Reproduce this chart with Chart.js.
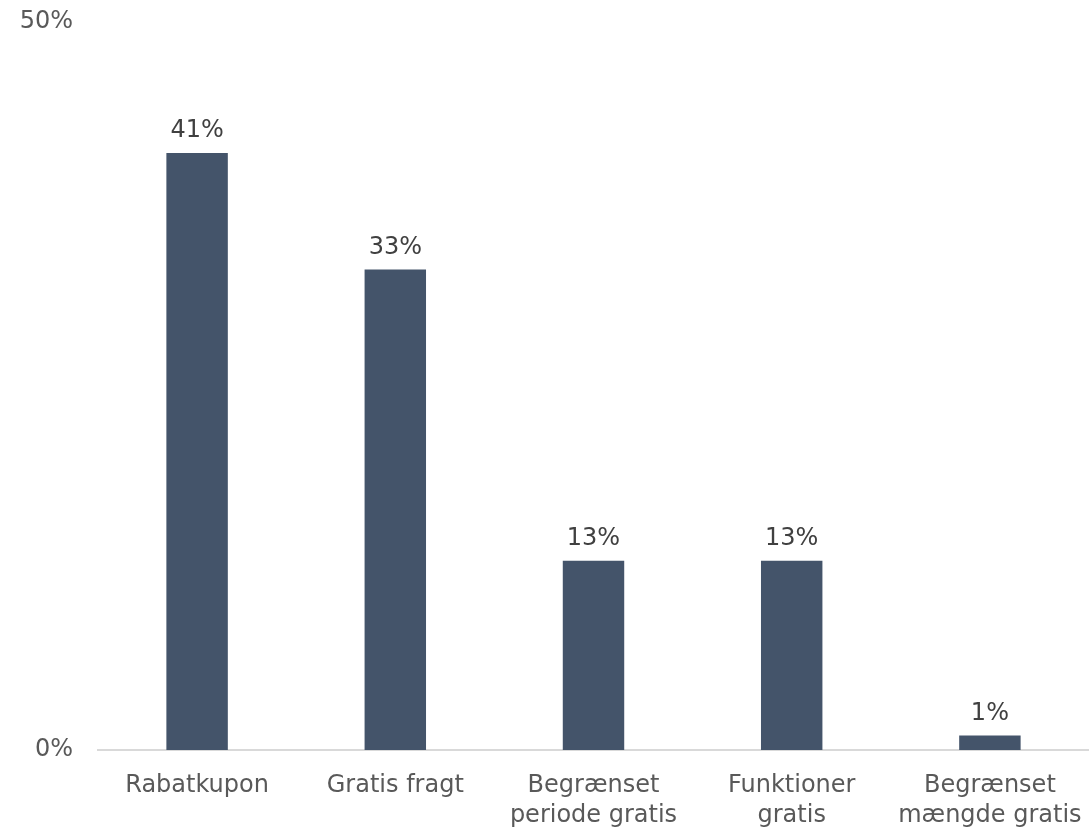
<!DOCTYPE html>
<html lang="da">
<head>
    <meta charset="UTF-8">
    <title>Rabatformer</title>
    <script src="https://cdn.jsdelivr.net/npm/chart.js"></script>
    <style>
        html, body { margin: 0; padding: 0; background: #fff; }
        #wrap { width: 1089px; height: 827px; }
    </style>
</head>
<body>
    <div id="wrap">
        <canvas id="rabatChart"></canvas>
    </div>

    <script>
        const categories = [
            'Rabatkupon',
            'Gratis fragt',
            ['Begrænset', 'periode gratis'],
            ['Funktioner', 'gratis'],
            ['Begrænset', 'mængde gratis']
        ];
        const shares = [41, 33, 13, 13, 1];
        const yTicks = [0, 50];

        const FONT = "Verdana, 'DejaVu Sans', sans-serif";

        // value labels above each bar
        const valueLabels = {
            id: 'valueLabels',
            afterDatasetsDraw(chart) {
                const ctx = chart.ctx;
                const meta = chart.getDatasetMeta(0);
                ctx.save();
                ctx.font = '24px ' + FONT;
                ctx.fillStyle = '#404040';
                ctx.textAlign = 'center';
                ctx.textBaseline = 'middle';
                meta.data.forEach((bar, i) => {
                    ctx.fillText(shares[i] + '%', bar.x, bar.y - 22);
                });
                ctx.restore();
            }
        };

        const ctx = document.getElementById('rabatChart').getContext('2d');
        new Chart(ctx, {
            type: 'bar',
            data: {
                labels: categories,
                datasets: [{
                    data: shares,
                    backgroundColor: '#44546A',
                    categoryPercentage: 1,
                    barPercentage: 0.31
                }]
            },
            options: {
                responsive: true,
                maintainAspectRatio: false,
                animation: false,
                layout: { padding: { top: 22, right: 0, bottom: 0, left: 0 } },
                plugins: {
                    legend: { display: false },
                    tooltip: { enabled: false }
                },
                scales: {
                    x: {
                        grid: { display: false, drawTicks: false },
                        border: { display: true, color: '#d9d9d9', width: 2 },
                        afterFit(scale) {
                            scale.height = 77;
                            scale.paddingLeft = 0;
                            scale.paddingRight = 0;
                        },
                        ticks: {
                            color: '#595959',
                            font: { family: FONT, size: 24, lineHeight: 1.25 },
                            padding: 21,
                            maxRotation: 0,
                            autoSkip: false
                        }
                    },
                    y: {
                        min: 0,
                        max: 50,
                        grid: { display: false, drawTicks: false },
                        border: { display: false },
                        afterBuildTicks(scale) {
                            scale.ticks = yTicks.map(v => ({ value: v }));
                        },
                        afterFit(scale) {
                            scale.width = 98;
                            scale.paddingTop = 0;
                            scale.paddingBottom = 0;
                        },
                        ticks: {
                            color: '#595959',
                            font: { family: FONT, size: 24 },
                            padding: 25,
                            callback: v => v + '%'
                        }
                    }
                }
            },
            plugins: [valueLabels]
        });
    </script>
</body>
</html>
